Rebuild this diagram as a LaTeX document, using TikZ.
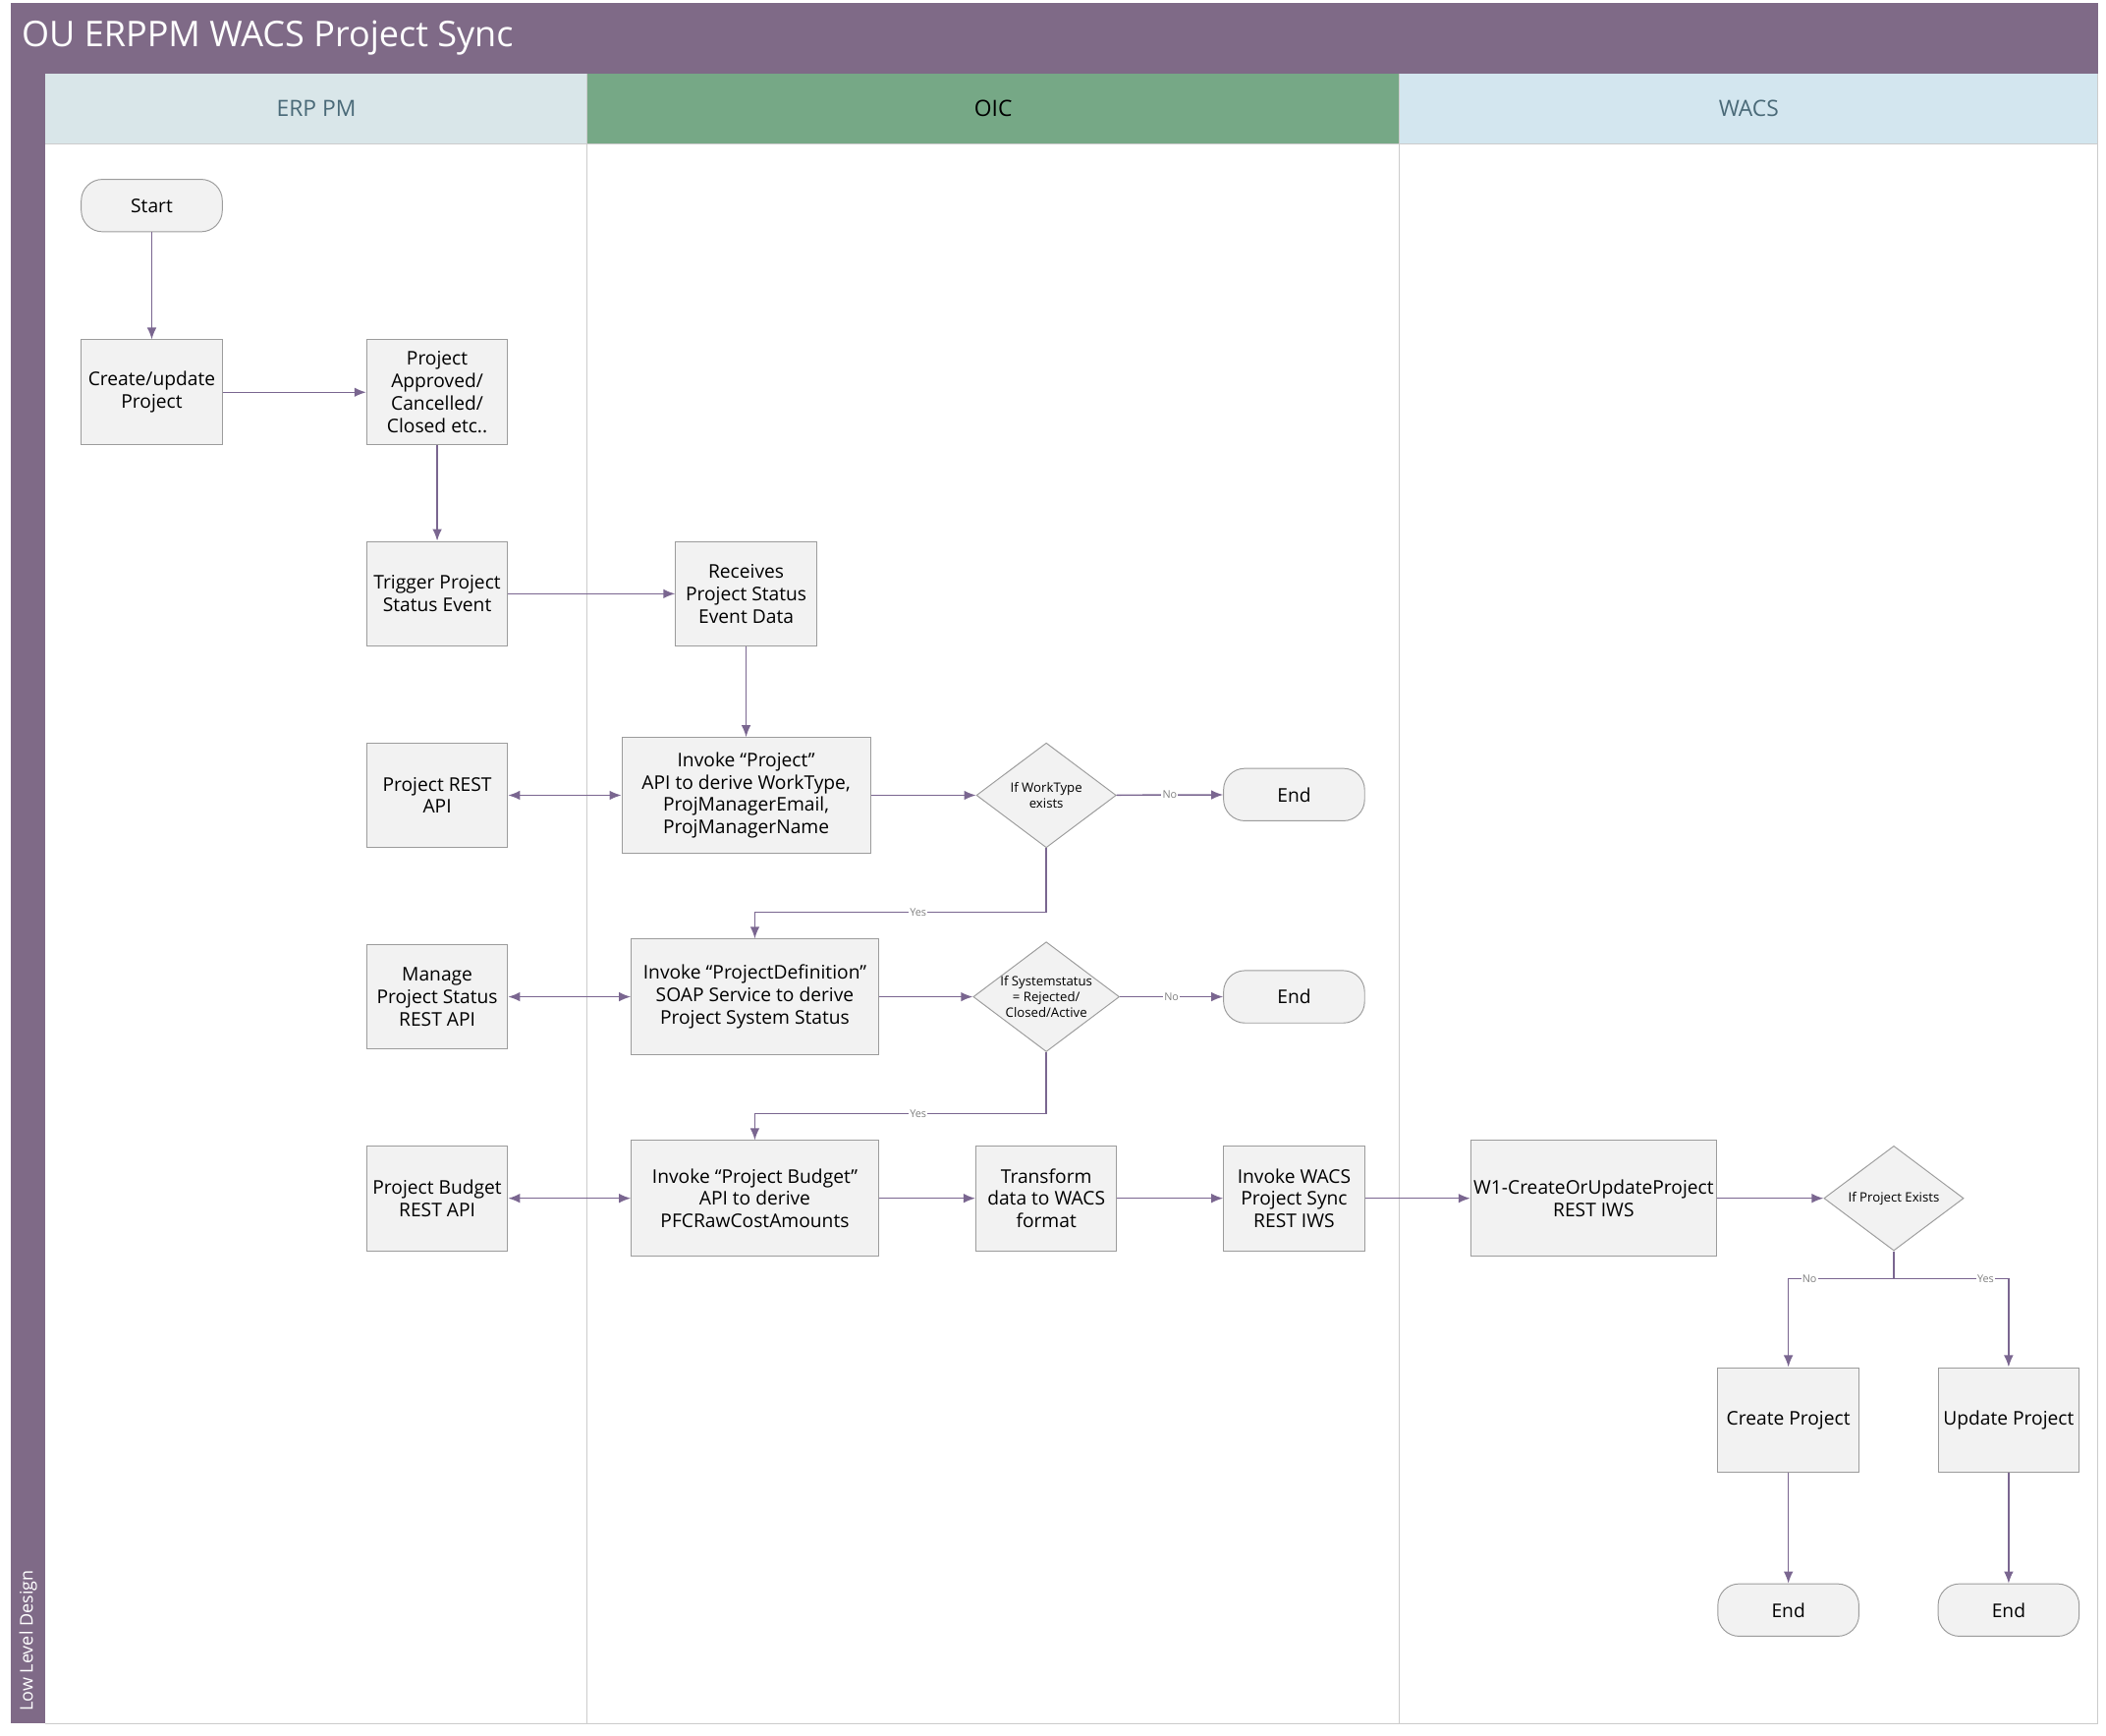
\documentclass[tikz,border=0pt]{standalone}
\usepackage{fontspec}
\setmainfont{Open Sans}
\usetikzlibrary{shapes.geometric,arrows.meta}
\definecolor{lanepurple}{HTML}{7F6A87}
\definecolor{arrowpurple}{HTML}{7A6690}
\definecolor{erphead}{HTML}{D9E6E9}
\definecolor{oichead}{HTML}{76A886}
\definecolor{wacshead}{HTML}{D3E6EF}
\definecolor{headtext}{HTML}{4A6A78}
\definecolor{boxfill}{HTML}{F2F2F2}
\definecolor{boxline}{HTML}{9C9C9C}
\tikzset{
  taskbox/.style={draw=boxline, fill=boxfill, align=center, font=\fontsize{8}{9.5}\selectfont,
    inner sep=1pt, minimum width=105\pxu, minimum height=78\pxu},
  terminal/.style={draw=boxline, fill=boxfill, rounded corners=9pt, font=\fontsize{8}{9.5}\selectfont,
    minimum width=105\pxu, minimum height=39\pxu},
  decision/.style={draw=boxline, fill=boxfill, diamond, aspect=1.33, align=center, inner sep=0pt,
    font=\fontsize{5.5}{6.5}\selectfont, minimum width=104\pxu, minimum height=78\pxu},
  flow/.style={draw=arrowpurple, line width=0.6pt, -{Latex[length=5pt,width=4pt]}},
  twoway/.style={draw=arrowpurple, line width=0.6pt, {Latex[length=5pt,width=4pt]}-{Latex[length=5pt,width=4pt]}},
  tag/.style={fill=white, inner sep=0.5pt, text=gray, font=\fontsize{4.5}{5}\selectfont}
}
\newcommand{\pxu}{*0.02cm}
\begin{document}
\begin{tikzpicture}[x=0.02cm, y=-0.02cm]
\useasboundingbox (0,0) rectangle (1568,1292);
% frame and lanes
\fill[lanepurple] (8,2) rectangle (1562,55);
\node[anchor=west, text=white, font=\fontsize{15}{18}\selectfont] (title) at (10,28) {OU ERPPM WACS Project Sync};
\fill[lanepurple] (8,55) rectangle (34,1283);
\node[rotate=90, anchor=west, text=white, font=\fontsize{7.5}{9}\selectfont] (design) at (21,1280) {Low Level Design};
\fill[erphead] (34,55) rectangle (437,107);
\fill[oichead] (437,55) rectangle (1042,107);
\fill[wacshead] (1042,55) rectangle (1562,107);
\node[text=headtext, font=\fontsize{9.5}{11}\selectfont] (erp) at (235.5,81) {ERP PM};
\node[font=\fontsize{9.5}{11}\selectfont] (oic) at (739.5,81) {OIC};
\node[text=headtext, font=\fontsize{9.5}{11}\selectfont] (wacs) at (1302,81) {WACS};
\draw[black!20] (34,107) -- (1562,107) (437,55) -- (437,1283) (1042,55) -- (1042,1283)
  (1562,55) -- (1562,1283) (34,1283) -- (1562,1283);
% nodes
\node[terminal] (start) at (113,153) {Start};
\node[taskbox] (create) at (113,292) {Create/update\\Project};
\node[taskbox] (approved) at (325.5,292) {Project\\Approved/\\Cancelled/\\Closed etc..};
\node[taskbox] (trigger) at (325.5,442) {Trigger Project\\Status Event};
\node[taskbox] (receives) at (555.5,442) {Receives\\Project Status\\Event Data};
\node[taskbox] (projapi) at (325.5,592) {Project REST\\API};
\node[taskbox, minimum width=185\pxu, minimum height=86\pxu] (invproj) at (555.5,592) {Invoke “Project”\\API to derive WorkType,\\ProjManagerEmail,\\ProjManagerName};
\node[decision] (worktype) at (779,592) {If WorkType\\exists};
\node[terminal] (end1) at (963.5,591.5) {End};
\node[taskbox] (manage) at (325.5,742) {Manage\\Project Status\\REST API};
\node[taskbox, minimum width=184\pxu, minimum height=86\pxu] (invdef) at (562,742) {Invoke “ProjectDefinition”\\SOAP Service to derive\\Project System Status};
\node[decision] (sysstat) at (779,742) {If Systemstatus\\= Rejected/\\Closed/Active};
\node[terminal] (end2) at (963.5,742) {End};
\node[taskbox] (budgetapi) at (325.5,892) {Project Budget\\REST API};
\node[taskbox, minimum width=184\pxu, minimum height=86\pxu] (invbud) at (562,892) {Invoke “Project Budget”\\API to derive\\PFCRawCostAmounts};
\node[taskbox] (transform) at (779,892) {Transform\\data to WACS\\format};
\node[taskbox] (invwacs) at (963.5,892) {Invoke WACS\\Project Sync\\REST IWS};
\node[taskbox, minimum width=183\pxu, minimum height=86\pxu] (w1) at (1186.5,892) {W1-CreateOrUpdateProject\\REST IWS};
\node[decision] (exists) at (1410,892) {If Project Exists};
\node[taskbox] (newproj) at (1331.5,1057) {Create Project};
\node[taskbox] (updproj) at (1495.5,1057) {Update Project};
\node[terminal] (end3) at (1331.5,1198.5) {End};
\node[terminal] (end4) at (1495.5,1198.5) {End};
% connectors
\draw[flow] (start) -- (create);
\draw[flow] (create) -- (approved);
\draw[flow] (approved) -- (trigger);
\draw[flow] (trigger) -- (receives);
\draw[flow] (receives) -- (invproj);
\draw[twoway] (projapi) -- (invproj);
\draw[flow] (invproj) -- (worktype);
\draw[flow] (worktype) -- node[tag] {No} (end1);
\draw[flow] (worktype.south) |- node[tag, pos=0.72] {Yes} (562,679) -- (invdef.north);
\draw[twoway] (manage) -- (invdef);
\draw[flow] (invdef) -- (sysstat);
\draw[flow] (sysstat) -- node[tag] {No} (end2);
\draw[flow] (sysstat.south) |- node[tag, pos=0.72] {Yes} (562,829) -- (invbud.north);
\draw[twoway] (budgetapi) -- (invbud);
\draw[flow] (invbud) -- (transform);
\draw[flow] (transform) -- (invwacs);
\draw[flow] (invwacs) -- (w1);
\draw[flow] (w1) -- (exists);
\draw[flow] (exists.south) |- node[tag, pos=0.9] {No} (1331.5,952) -- (newproj);
\draw[flow] (exists.south) |- node[tag, pos=0.9] {Yes} (1495.5,952) -- (updproj);
\draw[flow] (newproj) -- (end3);
\draw[flow] (updproj) -- (end4);
\end{tikzpicture}
\end{document}
